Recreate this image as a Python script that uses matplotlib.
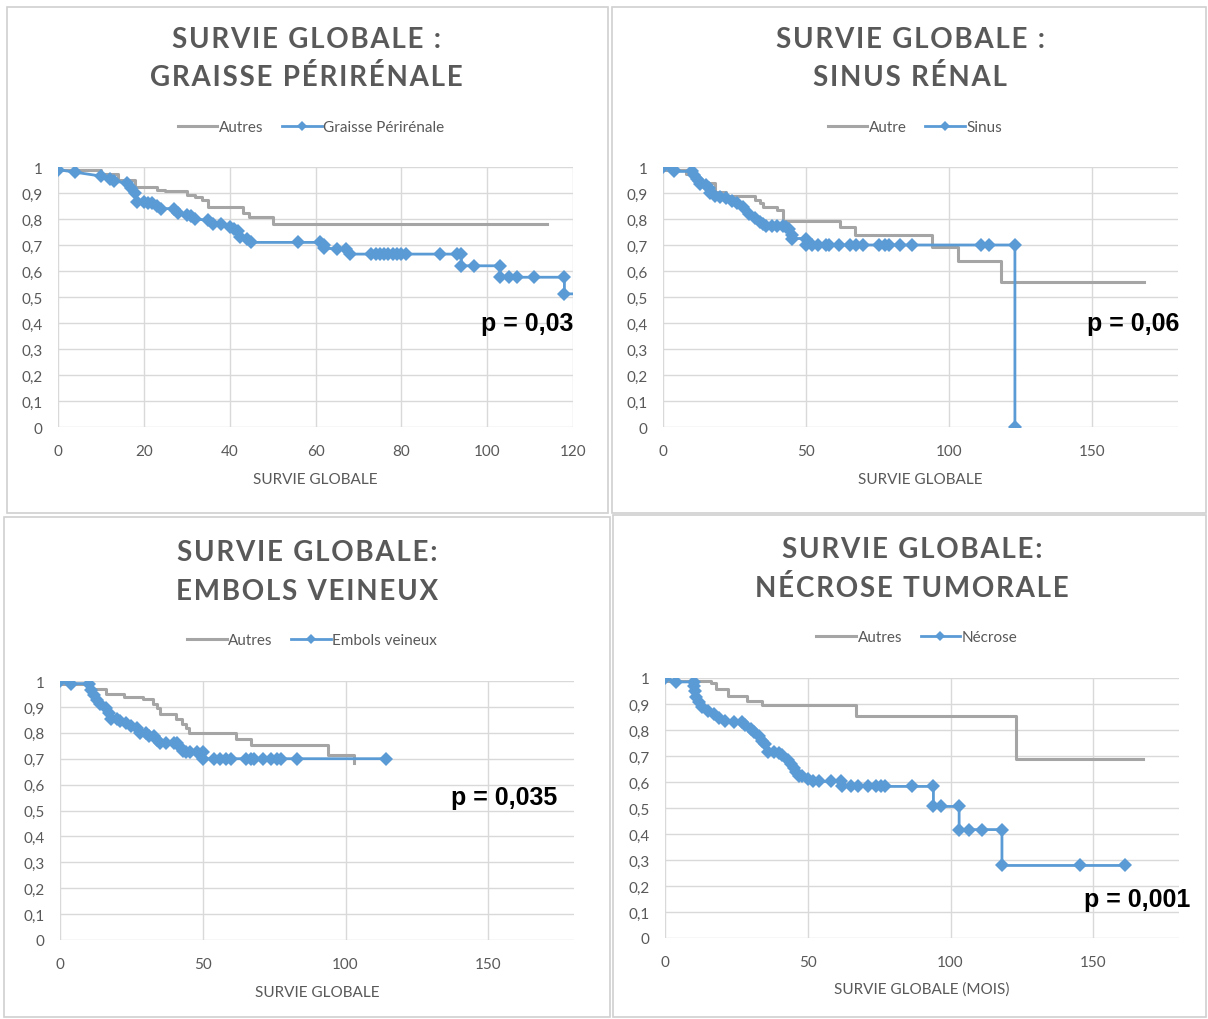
"""Kaplan-Meier style survival curves, four panels (Excel look)."""

import matplotlib

matplotlib.use("Agg")

import matplotlib.pyplot as plt
from matplotlib.patches import Rectangle

plt.rcParams["font.family"] = ["Lato", "DejaVu Sans"]

TEXT = "#595959"
GRID = "#d9d9d9"
BLUE = "#5b9bd5"
GRAY = "#a5a5a5"

# --- panel 1 : graisse perirenale ---
p1_titles = ["SURVIE GLOBALE :", "GRAISSE PÉRIRÉNALE"]
p1_labels = ["Autres", "Graisse Périrénale"]
p1_other_t = [0, 10, 14, 18, 23, 25, 30, 32, 33.5, 35, 43, 44.5, 50, 114]
p1_other_s = [0.99, 0.975, 0.95, 0.922, 0.913, 0.906, 0.894, 0.885, 0.874, 0.845, 0.823, 0.806, 0.782, 0.782]
p1_t = [0, 4, 10, 12, 13, 16, 17, 18, 18.5, 20, 21, 22, 23, 24, 27, 28, 30, 31, 32, 35, 36, 38,
        40, 41, 42, 42.5, 44, 45, 56, 61, 62, 62, 65, 67, 68, 73, 74, 75, 76, 77, 78, 79, 80, 81,
        89, 93, 94, 94, 97, 103, 103, 105, 107, 111, 118, 118, 122]
p1_s = [0.99, 0.98, 0.965, 0.955, 0.945, 0.94, 0.92, 0.90, 0.865, 0.865, 0.86, 0.86, 0.85, 0.84,
        0.84, 0.825, 0.815, 0.81, 0.80, 0.795, 0.78, 0.78, 0.77, 0.76, 0.755, 0.73, 0.725, 0.71,
        0.71, 0.71, 0.70, 0.688, 0.685, 0.685, 0.665, 0.665, 0.665, 0.665, 0.665, 0.665, 0.665,
        0.665, 0.665, 0.665, 0.665, 0.665, 0.665, 0.62, 0.62, 0.62, 0.576, 0.576, 0.576, 0.576,
        0.576, 0.512, 0.512]

# --- panel 2 : sinus renal ---
p2_titles = ["SURVIE GLOBALE :", "SINUS RÉNAL"]
p2_labels = ["Autre", "Sinus"]
p2_other_t = [0, 8, 12, 18, 22, 32, 34, 35, 40, 42, 62, 67, 94, 103, 118, 168]
p2_other_s = [0.99, 0.975, 0.94, 0.905, 0.887, 0.875, 0.861, 0.848, 0.836, 0.793, 0.768, 0.737,
              0.691, 0.637, 0.557, 0.557]
p2_t = [0, 4, 4, 10, 11, 12, 12.5, 13, 15, 16, 16.5, 18, 20, 22, 24, 26, 28, 30, 32, 34, 35, 36,
        38, 40, 42, 43, 44, 45, 45, 50, 50, 52, 54, 57, 58, 61.5, 65.5, 67.5, 70, 75.5, 77.5, 79,
        83, 87, 111, 114, 123, 123]
p2_s = [1.0, 0.99, 0.983, 0.983, 0.97, 0.955, 0.945, 0.935, 0.93, 0.92, 0.90, 0.89, 0.885, 0.88,
        0.87, 0.86, 0.845, 0.82, 0.805, 0.79, 0.78, 0.775, 0.775, 0.775, 0.775, 0.77, 0.76, 0.74,
        0.725, 0.725, 0.70, 0.70, 0.70, 0.70, 0.70, 0.70, 0.70, 0.70, 0.70, 0.70, 0.70, 0.70,
        0.70, 0.70, 0.70, 0.70, 0.70, 0.0]

# --- panel 3 : embols veineux ---
p3_titles = ["SURVIE GLOBALE:", "EMBOLS VEINEUX"]
p3_labels = ["Autres", "Embols veineux"]
p3_other_t = [0, 10, 16, 22.3, 29, 32.4, 34, 35, 40.7, 42.7, 44, 45, 61.8, 67, 93.9, 102.8]
p3_other_s = [0.99, 0.971, 0.948, 0.939, 0.929, 0.913, 0.894, 0.872, 0.855, 0.834, 0.817, 0.80,
              0.775, 0.753, 0.714, 0.682]
p3_t = [0, 4, 10, 11, 12, 13, 14, 16, 17, 18, 20, 21, 23, 25, 27, 28, 30, 31, 33, 34, 35, 37, 40,
        41, 42, 43, 44, 45.5, 48, 50, 50, 54, 56, 58, 60, 65, 67, 68, 71, 74, 76, 77.5, 83, 114]
p3_s = [1.0, 0.99, 0.99, 0.967, 0.945, 0.926, 0.913, 0.895, 0.875, 0.855, 0.855, 0.847, 0.836,
        0.826, 0.817, 0.80, 0.80, 0.787, 0.787, 0.772, 0.76, 0.76, 0.76, 0.76, 0.745, 0.73, 0.725,
        0.725, 0.725, 0.725, 0.70, 0.70, 0.70, 0.70, 0.70, 0.70, 0.70, 0.70, 0.70, 0.70, 0.70,
        0.70, 0.70, 0.70]

# --- panel 4 : necrose tumorale ---
p4_titles = ["SURVIE GLOBALE:", "NÉCROSE TUMORALE"]
p4_labels = ["Autres", "Nécrose"]
p4_other_t = [0, 16, 18, 22, 28.7, 33.8, 67, 122.8, 167.3]
p4_other_s = [0.99, 0.98, 0.958, 0.932, 0.913, 0.898, 0.855, 0.689, 0.689]
p4_t = [0, 4, 10, 10, 10.5, 11, 12, 13, 15, 17, 19, 21, 24, 27, 28, 30, 31, 33, 34, 35, 36, 38,
        40, 41, 43, 44, 45, 46, 47, 48, 50, 52, 54, 58, 61.5, 62, 65, 67.5, 71, 74, 75.5, 77,
        86.5, 94, 94, 96.5, 103, 103, 106.5, 111, 118, 118, 145.5, 161]
p4_s = [1.0, 0.985, 0.985, 0.97, 0.95, 0.926, 0.909, 0.887, 0.875, 0.862, 0.845, 0.836, 0.83,
        0.83, 0.82, 0.804, 0.791, 0.776, 0.759, 0.746, 0.717, 0.715, 0.712, 0.702, 0.686, 0.67,
        0.654, 0.638, 0.625, 0.625, 0.612, 0.602, 0.602, 0.602, 0.602, 0.583, 0.583, 0.583,
        0.583, 0.583, 0.583, 0.583, 0.583, 0.583, 0.506, 0.506, 0.506, 0.417, 0.417, 0.417,
        0.417, 0.279, 0.279, 0.279]

p_values = ["p = 0,03", "p = 0,06", "p = 0,035", "p = 0,001"]
x_labels = ["SURVIE GLOBALE", "SURVIE GLOBALE", "SURVIE GLOBALE", "SURVIE GLOBALE (MOIS)"]
y_ticks = [0, 0.1, 0.2, 0.3, 0.4, 0.5, 0.6, 0.7, 0.8, 0.9, 1]

W, H = 1208, 1020
fig = plt.figure(figsize=(W / 100, H / 100), dpi=100)


def fx(px):
    return px / W


def fy(py):
    return 1 - py / H


def spaced(text):
    # Excel titles use extra character spacing
    return "\u200a".join(text)


# panel frames (left, top, right, bottom) in pixels
frames = [(7, 8, 608, 514), (612, 8, 1206, 514), (4, 518, 610, 1018), (613, 516, 1206, 1018)]
for l, t, r, b in frames:
    fig.add_artist(Rectangle((fx(l), fy(b)), fx(r - l), (b - t) / H, transform=fig.transFigure,
                             fill=False, edgecolor="#d0d0d0", linewidth=1.2))

panels = [
    dict(titles=p1_titles, labels=p1_labels, ot=p1_other_t, os=p1_other_s, bt=p1_t, bs=p1_s,
         box=(58, 168, 573, 428), xmax=120, xstep=20, title_y=(40, 78), cx=306, leg_y=128,
         xlab_y=480, p_xy=(120, 0.40)),
    dict(titles=p2_titles, labels=p2_labels, ot=p2_other_t, os=p2_other_s, bt=p2_t, bs=p2_s,
         box=(663, 168, 1178, 428), xmax=180, xstep=50, title_y=(40, 78), cx=910, leg_y=128,
         xlab_y=480, p_xy=(180.5, 0.40)),
    dict(titles=p3_titles, labels=p3_labels, ot=p3_other_t, os=p3_other_s, bt=p3_t, bs=p3_s,
         box=(60, 682, 574, 941), xmax=180, xstep=50, title_y=(553, 592), cx=307, leg_y=641,
         xlab_y=993, p_xy=(174, 0.552)),
    dict(titles=p4_titles, labels=p4_labels, ot=p4_other_t, os=p4_other_s, bt=p4_t, bs=p4_s,
         box=(665, 679, 1179, 939), xmax=180, xstep=50, title_y=(550, 589), cx=912, leg_y=638,
         xlab_y=990, p_xy=(184, 0.15)),
]

for i, p in enumerate(panels):
    l, t, r, b = p["box"]
    ax = fig.add_axes([fx(l), fy(b), fx(r - l), (b - t) / H])
    ax.plot(p["ot"], p["os"], drawstyle="steps-post", color=GRAY, linewidth=2.2,
            label=p["labels"][0], zorder=3)
    ax.plot(p["bt"], p["bs"], color=BLUE, linewidth=2.0, marker="D", markersize=7,
            markeredgewidth=0, label=p["labels"][1], zorder=4)
    ax.set_xlim(0, p["xmax"])
    ax.set_ylim(0, 1)
    xt = list(range(0, p["xmax"] + 1, p["xstep"]))
    ax.set_xticks(xt)
    ax.set_xticklabels([str(v) for v in xt])
    ax.set_yticks(y_ticks)
    ax.set_yticklabels([("%g" % v).replace(".", ",") for v in y_ticks])
    ax.grid(True, color=GRID, linewidth=1.0)
    ax.set_axisbelow(True)
    for s in ax.spines.values():
        s.set_visible(False)
    ax.tick_params(length=0, labelsize=11, labelcolor=TEXT)
    ax.tick_params(axis="x", pad=12)
    ax.tick_params(axis="y", pad=11)

    ax.text(p["p_xy"][0], p["p_xy"][1], p_values[i], ha="right", va="center",
            fontsize=18, fontweight="bold", color="black", clip_on=False,
            family=["Liberation Sans Narrow", "Liberation Sans", "DejaVu Sans"])

    for line, ty in zip(p["titles"], p["title_y"]):
        fig.text(fx(p["cx"]), fy(ty), spaced(line), ha="center", va="center", fontsize=20,
                 fontweight="bold", color=TEXT)
    fig.text(fx((l + r) / 2), fy(p["xlab_y"]), x_labels[i], ha="center", va="center",
             fontsize=11, color=TEXT)
    ax.legend(loc="center", bbox_to_anchor=(fx(p["cx"] + 5), fy(p["leg_y"])),
              bbox_transform=fig.transFigure, ncol=2, frameon=False, fontsize=11,
              labelcolor=TEXT, handlelength=2.6, handletextpad=0.1, columnspacing=1.2,
              markerscale=0.7)

fig.savefig("out.png", dpi=100)
plt.close(fig)
print("Saved: out.png")
